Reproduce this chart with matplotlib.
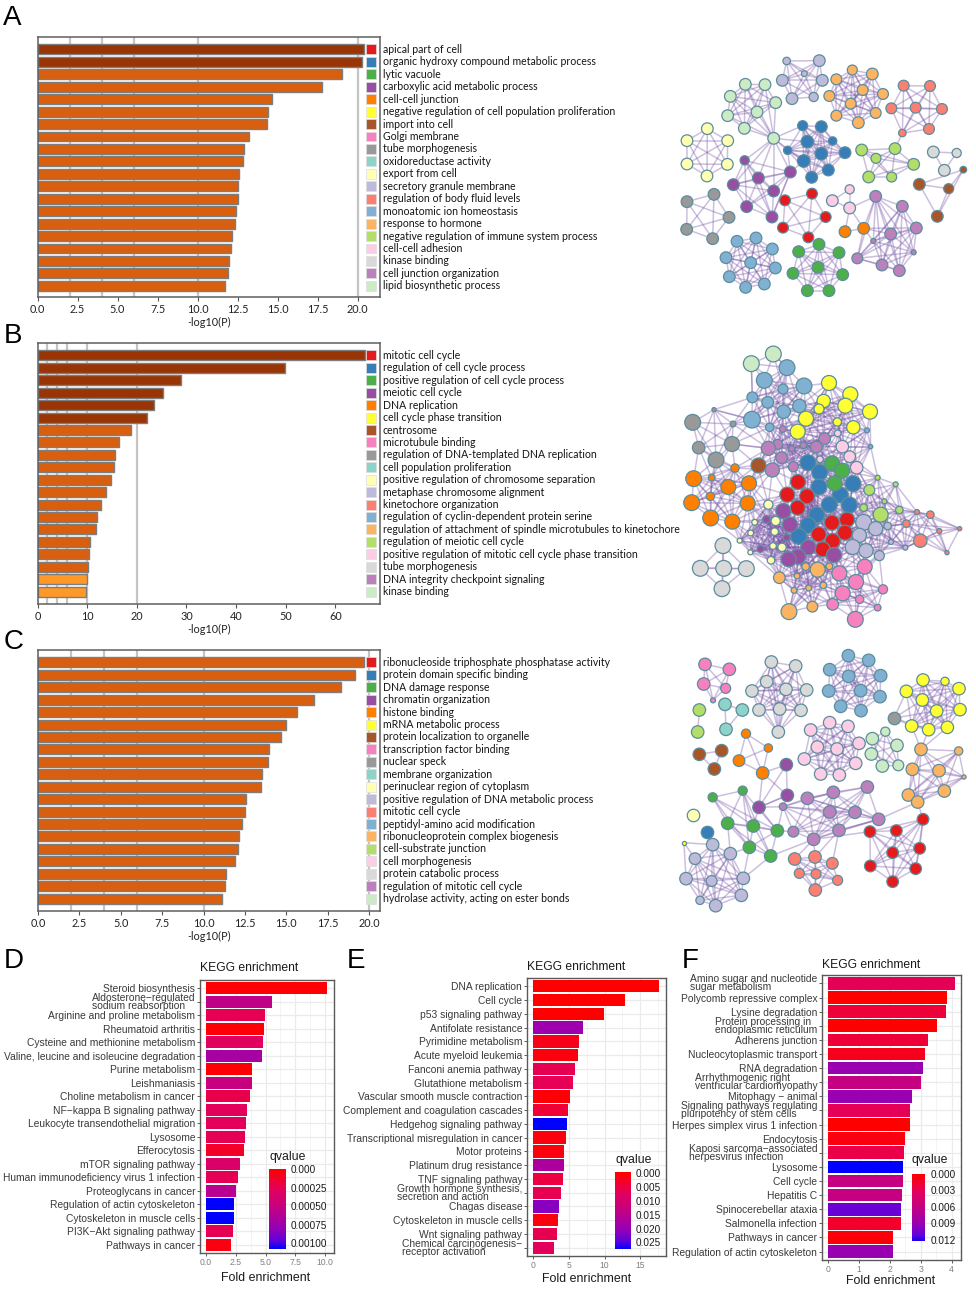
import matplotlib
matplotlib.use("Agg")
import matplotlib.pyplot as plt
from matplotlib.collections import LineCollection
from matplotlib.colors import LinearSegmentedColormap
import numpy as np

W, H = 976, 1291
plt.rcParams['font.family'] = ['Liberation Sans', 'DejaVu Sans']

palette = ['#e41a1c', '#377eb8', '#4daf4a', '#984ea3', '#ff7f00', '#ffff33', '#a65628',
           '#f781bf', '#999999', '#8dd3c7', '#ffffb3', '#bebada', '#fb8072', '#80b1d3',
           '#fdb462', '#b3de69', '#fccde5', '#d9d9d9', '#bc80bd', '#ccebc5']

# --- Metascape bars ---
a_values = [20.4, 20.28, 19.0, 17.8, 14.65, 14.4, 14.35, 13.2, 12.9, 12.85,
            12.6, 12.53, 12.5, 12.38, 12.35, 12.17, 12.07, 11.95, 11.92, 11.74]
a_terms = ["apical part of cell", "organic hydroxy compound metabolic process", "lytic vacuole",
           "carboxylic acid metabolic process", "cell-cell junction",
           "negative regulation of cell population proliferation", "import into cell", "Golgi membrane",
           "tube morphogenesis", "oxidoreductase activity", "export from cell",
           "secretory granule membrane", "regulation of body fluid levels", "monoatomic ion homeostasis",
           "response to hormone", "negative regulation of immune system process", "cell-cell adhesion",
           "kinase binding", "cell junction organization", "lipid biosynthetic process"]
a_ticks = [0, 2.5, 5, 7.5, 10, 12.5, 15, 17.5, 20]

b_values = [66, 49.8, 29, 25.3, 23.5, 22.1, 18.9, 16.4, 15.6, 15.5,
            14.8, 13.9, 12.8, 12, 11.8, 10.5, 10.3, 10.1, 9.95, 9.8]
b_terms = ["mitotic cell cycle", "regulation of cell cycle process", "positive regulation of cell cycle process",
           "meiotic cell cycle", "DNA replication", "cell cycle phase transition", "centrosome",
           "microtubule binding", "regulation of DNA-templated DNA replication", "cell population proliferation",
           "positive regulation of chromosome separation", "metaphase chromosome alignment",
           "kinetochore organization", "regulation of cyclin-dependent protein serine",
           "regulation of attachment of spindle microtubules to kinetochore", "regulation of meiotic cell cycle",
           "positive regulation of mitotic cell cycle phase transition", "tube morphogenesis",
           "DNA integrity checkpoint signaling", "kinase binding"]
b_ticks = [0, 10, 20, 30, 40, 50, 60]

c_values = [19.7, 19.15, 18.3, 16.65, 15.65, 15.0, 14.67, 13.92, 13.86, 13.52,
            13.44, 12.55, 12.5, 12.33, 12.15, 12.1, 11.9, 11.35, 11.3, 11.13]
c_terms = ["ribonucleoside triphosphate phosphatase activity", "protein domain specific binding",
           "DNA damage response", "chromatin organization", "histone binding", "mRNA metabolic process",
           "protein localization to organelle", "transcription factor binding", "nuclear speck",
           "membrane organization", "perinuclear region of cytoplasm",
           "positive regulation of DNA metabolic process", "mitotic cell cycle",
           "peptidyl-amino acid modification", "ribonucleoprotein complex biogenesis",
           "cell-substrate junction", "cell morphogenesis", "protein catabolic process",
           "regulation of mitotic cell cycle", "hydrolase activity, acting on ester bonds"]
c_ticks = a_ticks

# --- KEGG bars ---
d_terms = ["Steroid biosynthesis", "Aldosterone\u2212regulated\nsodium reabsorption", "Arginine and proline metabolism",
           "Rheumatoid arthritis", "Cysteine and methionine metabolism", "Valine, leucine and isoleucine degradation",
           "Purine metabolism", "Leishmaniasis", "Choline metabolism in cancer", "NF\u2212kappa B signaling pathway",
           "Leukocyte transendothelial migration", "Lysosome", "Efferocytosis", "mTOR signaling pathway",
           "Human immunodeficiency virus 1 infection", "Proteoglycans in cancer", "Regulation of actin cytoskeleton",
           "Cytoskeleton in muscle cells", "PI3K\u2212Akt signaling pathway", "Pathways in cancer"]
d_fold = [10.2, 5.52, 4.99, 4.87, 4.79, 4.71, 3.89, 3.84, 3.70, 3.47,
          3.36, 3.28, 3.19, 2.89, 2.66, 2.55, 2.38, 2.38, 2.27, 2.13]
d_q = [0.00002, 0.00055, 0.00025, 0.00002, 0.0003, 0.0007, 0.00001, 0.0005, 0.00022, 0.00028,
       0.00028, 0.00025, 0.00012, 0.00035, 0.00025, 0.0006, 0.00108, 0.00108, 0.00025, 0.00005]
d_q_ticks = [0, 0.00025, 0.0005, 0.00075, 0.001]
d_q_labels = ["0.000", "0.00025", "0.00050", "0.00075", "0.00100"]

e_terms = ["DNA replication", "Cell cycle", "p53 signaling pathway", "Antifolate resistance", "Pyrimidine metabolism",
           "Acute myeloid leukemia", "Fanconi anemia pathway", "Glutathione metabolism",
           "Vascular smooth muscle contraction", "Complement and coagulation cascades", "Hedgehog signaling pathway",
           "Transcriptional misregulation in cancer", "Motor proteins", "Platinum drug resistance",
           "TNF signaling pathway", "Growth hormone synthesis,\nsecretion and action", "Chagas disease",
           "Cytoskeleton in muscle cells", "Wnt signaling pathway", "Chemical carcinogenesis\u2212\nreceptor activation"]
e_fold = [17.6, 12.8, 9.86, 7.02, 6.37, 6.28, 5.86, 5.53, 5.12, 4.88,
          4.7, 4.65, 4.37, 4.33, 4.14, 3.95, 3.63, 3.44, 3.3, 2.98]
e_q = [0, 0, 0, 0.019, 0.002, 0.001, 0.006, 0.0065, 0.0005, 0.004,
       0.0274, 0.001, 0.001, 0.017, 0.005, 0.006, 0.0215, 0.001, 0.006, 0.007]
e_q_ticks = [0, 0.005, 0.01, 0.015, 0.02, 0.025]
e_q_labels = ["0.000", "0.005", "0.010", "0.015", "0.020", "0.025"]

f_terms = ["Amino sugar and nucleotide\nsugar metabolism", "Polycomb repressive complex", "Lysine degradation",
           "Protein processing in\nendoplasmic reticulum", "Adherens junction", "Nucleocytoplasmic transport",
           "RNA degradation", "Arrhythmogenic right\nventricular cardiomyopathy", "Mitophagy \u2212 animal",
           "Signaling pathways regulating\npluripotency of stem cells", "Herpes simplex virus 1 infection", "Endocytosis",
           "Kaposi sarcoma\u2212associated\nherpesvirus infection", "Lysosome", "Cell cycle", "Hepatitis C",
           "Spinocerebellar ataxia", "Salmonella infection", "Pathways in cancer", "Regulation of actin cytoskeleton"]
f_fold = [4.09, 3.85, 3.81, 3.53, 3.22, 3.15, 3.07, 3.02, 2.72, 2.66,
          2.65, 2.48, 2.47, 2.43, 2.42, 2.40, 2.37, 2.35, 2.11, 2.10]
f_q = [0.003, 0, 0.002, 0, 0.002, 0.001, 0.009, 0.006, 0.009, 0.003,
       0, 0.0005, 0.0025, 0.0125, 0.006, 0.006, 0.0108, 0.0015, 0.0003, 0.009]
f_q_ticks = [0, 0.003, 0.006, 0.009, 0.012]
f_q_labels = ["0.000", "0.003", "0.006", "0.009", "0.012"]

net_a = [
    (11, [(380, 93, 9), (478, 92, 14), (433, 131, 7), (367, 151, 14), (487, 151, 14), (396, 206, 14), (461, 201, 11)]),
    (14, [(577, 120, 12), (637, 132, 14), (529, 148, 13), (608, 180, 13), (669, 192, 13), (508, 198, 13),
          (572, 221, 13), (647, 249, 13), (529, 257, 13), (595, 278, 14)]),
    (12, [(731, 167, 13), (810, 168, 13), (694, 235, 13), (767, 233, 13), (846, 237, 13), (807, 297, 13), (727, 309, 9)]),
    (19, [(256, 163, 14), (315, 164, 14), (211, 199, 14), (347, 218, 14), (291, 246, 14), (203, 257, 14),
          (253, 295, 14), (341, 325, 14)]),
    (1, [(428, 287, 12), (484, 290, 14), (442, 335, 15), (518, 333, 10), (383, 361, 10), (484, 371, 15),
         (555, 368, 14), (431, 393, 15), (505, 420, 14), (455, 442, 14)]),
    (10, [(142, 296, 14), (81, 332, 14), (203, 332, 14), (81, 402, 14), (202, 403, 14), (141, 438, 14)]),
    (3, [(254, 391, 11), (295, 444, 14), (391, 426, 14), (220, 464, 14), (341, 483, 14), (260, 530, 14), (336, 561, 14)]),
    (15, [(605, 360, 14), (705, 356, 14), (648, 385, 12), (761, 403, 14), (626, 441, 14), (695, 441, 12)]),
    (17, [(820, 366, 14), (890, 369, 11), (853, 421, 14)]),
    (6, [(910, 419, 8), (778, 463, 14), (866, 476, 12), (832, 559, 14)]),
    (8, [(162, 493, 14), (81, 515, 14), (207, 562, 14), (80, 598, 14), (158, 626, 14)]),
    (0, [(456, 491, 13), (375, 511, 13), (497, 561, 13), (369, 593, 13), (445, 622, 13)]),
    (16, [(569, 478, 11), (517, 512, 14), (569, 534, 14)]),
    (4, [(555, 605, 14), (611, 595, 14)]),
    (18, [(647, 499, 14), (727, 529, 14), (769, 594, 14), (692, 612, 14), (640, 633, 6), (761, 667, 6),
          (592, 685, 13), (666, 705, 14), (718, 722, 14)]),
    (13, [(288, 624, 14), (231, 634, 14), (337, 657, 14), (198, 683, 14), (272, 698, 14), (346, 714, 14),
          (208, 740, 14), (313, 762, 14), (257, 772, 14)]),
    (2, [(477, 643, 14), (416, 665, 14), (537, 668, 14), (474, 712, 14), (548, 734, 14), (399, 730, 14),
         (442, 782, 14), (507, 782, 14)]),
]
links_a = [((341, 325), (428, 287)), ((341, 325), (442, 335)), ((341, 325), (383, 361)), ((341, 325), (431, 393)),
           ((341, 325), (254, 391)), ((341, 325), (391, 426)), ((341, 325), (295, 444)), ((341, 325), (341, 483)),
           ((341, 325), (220, 464)), ((727, 309), (705, 356)), ((569, 534), (611, 595)), ((569, 534), (555, 605)),
           ((569, 534), (647, 499)), ((611, 595), (692, 612)), ((611, 595), (769, 594)), ((611, 595), (640, 633)),
           ((611, 595), (592, 685)), ((391, 426), (431, 393)), ((391, 426), (383, 361)), ((391, 426), (336, 561)),
           ((611, 595), (647, 499))]

net_b = [
    (19, [(340, 42, 19), (274, 71, 19)]),
    (13, [(381, 83, 19), (313, 121, 19), (432, 138, 19), (369, 147, 12), (277, 172, 13), (323, 187, 14),
          (418, 198, 16), (371, 215, 16), (276, 239, 20), (329, 262, 10)]),
    (5, [(507, 129, 18), (571, 163, 18), (491, 183, 16), (556, 197, 18), (477, 207, 12), (630, 215, 18),
         (438, 236, 18), (532, 246, 10), (580, 262, 16), (413, 275, 18)]),
    (8, [(162, 209, 5), (219, 252, 7), (98, 247, 19), (216, 312, 18), (116, 323, 15), (168, 360, 19)]),
    (4, [(225, 384, 10), (101, 416, 19), (155, 413, 8), (205, 441, 18), (267, 430, 18), (151, 469, 10),
         (95, 488, 19), (263, 490, 18), (152, 534, 19), (217, 545, 18)]),
    (6, [(293, 375, 18)]),
    (18, [(368, 267, 8), (494, 296, 14), (353, 313, 12), (325, 325, 17), (430, 316, 8), (469, 321, 14),
          (395, 326, 7), (365, 353, 14), (400, 380, 12), (337, 390, 17)]),
    (16, [(533, 280, 8), (547, 320, 15), (569, 350, 14), (590, 383, 15), (480, 358, 8)]),
    (13, [(621, 271, 6), (632, 320, 5)]),
    (1, [(444, 368, 19), (479, 397, 19), (477, 441, 19), (579, 431, 19), (541, 465, 19), (508, 494, 19),
         (568, 495, 19), (470, 525, 19), (444, 556, 19), (416, 589, 19)]),
    (2, [(516, 370, 18), (546, 392, 18), (524, 430, 18)]),
    (0, [(414, 426, 18), (382, 464, 18), (441, 469, 18), (413, 503, 18), (561, 539, 18), (516, 548, 18),
         (555, 578, 18), (476, 583, 18), (518, 603, 18), (488, 628, 18)]),
    (3, [(370, 513, 18), (390, 554, 18), (380, 593, 8), (445, 622, 18), (522, 645, 18), (414, 650, 18),
         (386, 658, 18), (319, 538, 9), (301, 627, 8)]),
    (10, [(325, 494, 11), (347, 543, 11), (344, 575, 9), (339, 618, 8), (366, 622, 10), (333, 661, 9),
          (284, 547, 7), (272, 579, 7), (239, 602, 6), (271, 637, 6)]),
    (11, [(611, 547, 19), (647, 566, 17), (598, 586, 17), (578, 621, 18), (618, 632, 17), (658, 647, 12),
          (683, 558, 9), (693, 606, 6), (736, 623, 6)]),
    (15, [(628, 450, 13), (611, 503, 9), (673, 484, 6), (718, 510, 9), (662, 524, 18), (653, 413, 6), (707, 433, 6)]),
    (12, [(739, 551, 9), (771, 516, 6), (811, 524, 9), (781, 602, 16), (838, 573, 6), (899, 566, 5), (861, 638, 5)]),
    (17, [(189, 617, 19), (121, 685, 19), (191, 685, 19), (259, 686, 19), (186, 746, 19)]),
    (14, [(473, 689, 18), (358, 713, 14), (437, 680, 9), (508, 679, 8), (411, 708, 7), (490, 736, 8),
          (402, 751, 7), (446, 744, 7), (457, 800, 13), (387, 815, 19)]),
    (7, [(538, 700, 18), (614, 680, 18), (588, 726, 18), (548, 760, 18), (669, 748, 11), (599, 778, 10),
         (518, 793, 14), (653, 803, 8), (586, 838, 19)]),
]
links_b = [((274, 71), (277, 172)), ((340, 42), (381, 83)), ((219, 252), (325, 325)), ((162, 209), (276, 239)),
           ((216, 312), (325, 325)), ((293, 375), (325, 325)), ((683, 558), (739, 551)), ((736, 623), (781, 602)),
           ((621, 271), (547, 320)), ((632, 320), (547, 320))]

net_c = [
    (7, [(135, 73, 15), (208, 88, 15), (131, 132, 15), (197, 145, 12), (159, 181, 6)]),
    (17, [(334, 66, 15), (407, 78, 15), (320, 125, 15), (378, 148, 15), (276, 153, 15), (440, 150, 15),
          (297, 210, 15), (359, 207, 15), (423, 211, 15), (355, 276, 15)]),
    (13, [(565, 47, 15), (626, 61, 15), (509, 89, 15), (566, 109, 15), (662, 107, 15), (506, 153, 15),
          (602, 152, 15), (660, 170, 15), (542, 199, 15), (603, 212, 15)]),
    (5, [(789, 120, 15), (855, 124, 10), (897, 146, 15), (739, 154, 15), (787, 180, 15), (830, 213, 15),
         (900, 209, 15), (755, 258, 15), (806, 269, 15), (862, 262, 15)]),
    (8, [(702, 234, 15)]),
    (15, [(118, 210, 15), (113, 276, 15)]),
    (9, [(195, 193, 15), (247, 210, 15), (198, 268, 15)]),
    (16, [(509, 248, 15), (452, 270, 15), (564, 259, 15), (597, 310, 15), (472, 321, 15), (531, 327, 15),
          (433, 357, 15), (587, 370, 15), (482, 402, 15), (538, 405, 15)]),
    (19, [(676, 275, 11), (637, 296, 15), (711, 316, 15), (634, 342, 15), (667, 378, 15), (715, 376, 13)]),
    (6, [(118, 343, 15), (185, 332, 15), (163, 387, 15)]),
    (4, [(258, 281, 11), (325, 324, 10), (237, 362, 14), (308, 399, 15)]),
    (14, [(783, 328, 15), (896, 333, 10), (757, 388, 15), (837, 392, 15), (912, 411, 5), (745, 465, 15),
          (853, 453, 15), (773, 486, 15)]),
    (3, [(379, 374, 15), (382, 466, 15), (297, 502, 15)]),
    (18, [(622, 441, 15), (520, 457, 15), (442, 475, 15), (369, 500, 9), (509, 516, 15), (585, 517, 15),
          (656, 538, 15), (400, 575, 13), (537, 571, 15), (461, 598, 15)]),
    (2, [(158, 472, 11), (248, 452, 11), (203, 550, 15), (280, 558, 15), (352, 572, 15), (268, 622, 15), (332, 648, 15)]),
    (10, [(98, 524, 15)]),
    (1, [(141, 575, 15)]),
    (0, [(789, 538, 14), (630, 575, 14), (709, 572, 14), (779, 625, 14), (698, 638, 14), (631, 678, 14),
         (767, 686, 14), (698, 725, 14)]),
    (12, [(404, 657, 15), (465, 651, 15), (517, 670, 14), (418, 700, 12), (468, 702, 12), (533, 721, 12), (466, 750, 15)]),
    (11, [(158, 614, 15), (105, 656, 14), (211, 641, 15), (78, 716, 15), (155, 723, 13), (250, 715, 15),
          (120, 781, 10), (244, 766, 15), (167, 797, 15)]),
    (5, [(72, 608, 5)]),
]
links_c = [((702, 234), (739, 154)), ((702, 234), (787, 180)), ((702, 234), (755, 258)), ((702, 234), (830, 213)),
           ((702, 234), (806, 269)), ((783, 328), (755, 258)), ((783, 328), (806, 269)), ((783, 328), (862, 262)),
           ((308, 399), (379, 374)), ((308, 399), (297, 502)), ((308, 399), (382, 466)), ((773, 486), (656, 538)),
           ((789, 538), (773, 486)), ((369, 500), (297, 502)), ((369, 500), (352, 572)), ((332, 648), (250, 715)),
           ((332, 648), (461, 598)), ((268, 622), (211, 641)), ((268, 622), (250, 715)), ((203, 550), (211, 641)),
           ((461, 598), (404, 657)), ((461, 598), (465, 651)), ((537, 571), (465, 651)), ((537, 571), (517, 670)),
           ((630, 575), (461, 598)), ((656, 538), (537, 571)), ((72, 608), (158, 614)), ((72, 608), (105, 656)),
           ((72, 608), (78, 716)), ((352, 572), (400, 575)), ((297, 502), (280, 558)), ((297, 502), (352, 572)),
           ((382, 466), (369, 500)), ((382, 466), (297, 502))]

q_cmap = LinearSegmentedColormap.from_list("q", [(0, '#ff0000'), (0.25, '#e4005b'), (0.5, '#c20085'),
                                                  (0.75, '#9400b8'), (0.9, '#5f00dc'), (1, '#0000ff')])

fig = plt.figure(figsize=(W / 100, H / 100), dpi=100)


def px_axes(left, top, right, bottom):
    return fig.add_axes([left / W, 1 - bottom / H, (right - left) / W, (bottom - top) / H])


def meta_bars(box, values, terms, ticks, xmax, ylim, dark_from=20.0, light_below=10.0, fmt="%.1f"):
    ax = px_axes(*box)
    for g in [2, 4, 6, 10, 20]:
        ax.axvline(g, color='#c4c4c4', lw=1.6, zorder=0)
    colors = ['#993404' if v > dark_from else ('#fe9929' if v < light_below else '#d95f0e') for v in values]
    y = np.arange(len(values))
    ax.barh(y, values, height=0.8, color=colors, edgecolor='#7d7d7d', lw=1.0, zorder=2)
    ax.barh(y, [0.029] * len(y), left=0.959, height=0.8, color=palette, edgecolor='#dddddd', lw=0.5,
            transform=ax.get_yaxis_transform(), zorder=2)
    for i, t in enumerate(terms):
        ax.text(1.0085, i, t, transform=ax.get_yaxis_transform(), va='center', ha='left',
                fontsize=7.6, family='Lato', color='#151515', clip_on=False)
    ax.set_xlim(0, xmax)
    ax.set_ylim(ylim)
    ax.set_yticks([])
    ax.set_xticks(ticks)
    ax.set_xticklabels([fmt % t for t in ticks], fontsize=7.8, family='Lato', color='#222222')
    ax.tick_params(axis='x', length=3, width=0.8, pad=2, color='#555555')
    ax.set_xlabel("-log10(P)", fontsize=7.8, family='Lato', labelpad=1.5, color='#222222')
    for s in ax.spines.values():
        s.set_color('#5f5f5f')
        s.set_linewidth(1.1)
    return ax


def kegg_bars(box, terms, fold, q, q_max, xlim, major, minor, fmt, title_x, title_y, label_x, label_y, cbar_box, q_top,
              q_bot, q_ticks, q_labels, q_title_y):
    ax = px_axes(*box)
    ax.set_axisbelow(True)
    colors = q_cmap(np.clip(np.array(q) / q_max, 0, 1))
    y = np.arange(len(fold))
    ax.barh(y, fold, height=0.9, color=colors, zorder=3)
    ax.set_ylim(len(fold) - 0.4, -0.6)
    ax.set_xlim(xlim)
    ax.set_xticks(major)
    ax.set_xticks(minor, minor=True)
    ax.set_xticklabels([fmt % m for m in major], fontsize=6.2, color='#808080')
    ax.set_yticks(y)
    ax.set_yticklabels(terms, fontsize=7.35, color='#3a3a3a', linespacing=0.75, multialignment='left')
    ax.grid(True, which='major', color='#ebebeb', lw=0.9)
    ax.grid(True, which='minor', axis='x', color='#f3f3f3', lw=0.6)
    ax.tick_params(axis='both', which='major', length=2, width=0.6, color='#444444', pad=1.5)
    ax.tick_params(axis='x', which='minor', length=0)
    for s in ax.spines.values():
        s.set_color('#5a5a5a')
        s.set_linewidth(1.0)
    fig.text(title_x / W, 1 - title_y / H, "KEGG enrichment", fontsize=8.7, va='center', color='#1a1a1a')
    fig.text(label_x / W, 1 - label_y / H, "Fold enrichment", fontsize=8.9, va='center', ha='center',
             color='#1a1a1a')
    cax = px_axes(*cbar_box)
    grad = np.linspace(q_top, q_bot, 200).reshape(-1, 1)
    cax.imshow(grad, aspect='auto', cmap=q_cmap, vmin=0, vmax=q_max, extent=[0, 1, q_bot, q_top])
    cax.set_xticks([])
    cax.yaxis.tick_right()
    cax.set_yticks(q_ticks)
    cax.set_yticklabels(q_labels, fontsize=7.2, color='#1a1a1a')
    cax.tick_params(axis='y', length=0, pad=4)
    for s in cax.spines.values():
        s.set_visible(False)
    fig.text(cbar_box[0] / W, 1 - q_title_y / H, "qvalue", fontsize=8.8, va='center', color='#1a1a1a')


def network(box, clusters, links, same_limit, cross_limit=0, lonely=(17,)):
    ax = px_axes(*box)
    ax.set_xlim(0, box[2] * 3 - box[0] * 3)
    ax.set_ylim(box[3] * 3 - box[1] * 3, 0)
    ax.axis('off')
    segs = []
    for n, (c, nodes) in enumerate(clusters):
        for i in range(len(nodes)):
            for j in range(i + 1, len(nodes)):
                if np.hypot(nodes[i][0] - nodes[j][0], nodes[i][1] - nodes[j][1]) < same_limit:
                    segs.append([nodes[i][:2], nodes[j][:2]])
        if cross_limit and c not in lonely:
            for c2, others in clusters[n + 1:]:
                if c2 in lonely:
                    continue
                for a in nodes:
                    for b in others:
                        if np.hypot(a[0] - b[0], a[1] - b[1]) < cross_limit:
                            segs.append([a[:2], b[:2]])
    segs.extend(links)
    ax.add_collection(LineCollection(segs, colors='#7450a5', linewidths=1.1, alpha=0.36, zorder=1))
    for c, nodes in clusters:
        xy = np.array(nodes, dtype=float)
        ax.scatter(xy[:, 0], xy[:, 1], s=(2 * 1.25 * xy[:, 2] / 3 * 0.72) ** 2, color=palette[c], edgecolor='#5c8d9c',
                   linewidth=0.9, zorder=3)


meta_bars((37.5, 37, 380, 297), a_values, a_terms, a_ticks, 21.4, (19.9, -1.0))
meta_bars((37.5, 343, 380, 604), b_values, b_terms, b_ticks, 69.0, (20.0, -1.0), fmt="%d")
meta_bars((38, 650, 380, 911), c_values, c_terms, c_ticks, 20.65, (20.0, -1.0), dark_from=100)

network((660, 30, 976, 320), net_a, links_a, 240)
network((660, 340, 976, 640), net_b, links_b, 230, cross_limit=125)
network((660, 640, 976, 930), net_c, links_c, 225)

kegg_bars((200, 980, 334, 1253), d_terms, d_fold, d_q, 0.00108, (-0.5, 10.75), [0, 2.5, 5, 7.5, 10],
          [1.25, 3.75, 6.25, 8.75], "%.1f", 200, 968, 266, 1278, (269, 1169, 285, 1249), 0, 0.00108, d_q_ticks,
          d_q_labels, 1157)
kegg_bars((527, 978, 666, 1256), e_terms, e_fold, e_q, 0.0274, (-0.84, 18.6), [0, 5, 10, 15],
          [2.5, 7.5, 12.5, 17.5], "%d", 527, 967, 587, 1279, (615, 1172, 630, 1249), -0.0004, 0.0274, e_q_ticks,
          e_q_labels, 1160)
kegg_bars((822, 975, 961, 1260), f_terms, f_fold, f_q, 0.0125, (-0.2, 4.3), [0, 1, 2, 3, 4],
          [0.5, 1.5, 2.5, 3.5], "%d", 822, 965, 891, 1281, (912, 1174, 925, 1241), 0, 0.0122, f_q_ticks,
          f_q_labels, 1160)

for letter, x, y in [("A", 3, 25), ("B", 4, 343), ("C", 4, 649), ("D", 4, 968), ("E", 347, 968), ("F", 682, 968)]:
    fig.text(x / W, 1 - y / H, letter, fontsize=20, va='baseline', color='black')

fig.savefig("out.png", dpi=100)
